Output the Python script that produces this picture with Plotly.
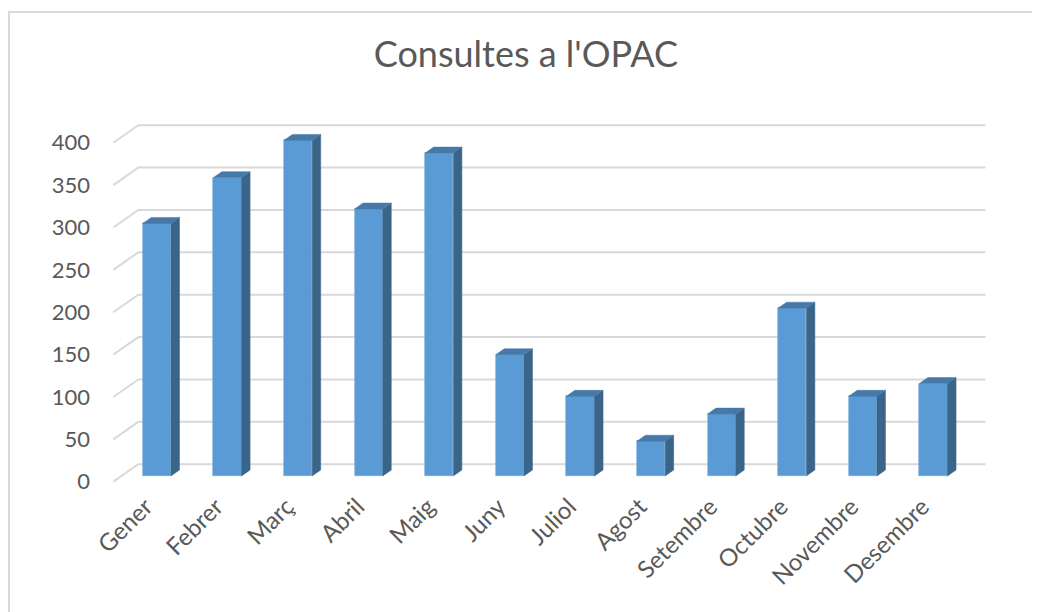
import plotly.graph_objects as go

# ---- data ----
months = ["Gener", "Febrer", "Març", "Abril", "Maig", "Juny", "Juliol",
          "Agost", "Setembre", "Octubre", "Novembre", "Desembre"]
consultes = [298, 352, 396, 315, 381, 143, 94, 41, 73, 198, 94, 109]
y_ticks = [0, 50, 100, 150, 200, 250, 300, 350, 400]
title_text = "Consultes a l'OPAC"

# ---- 3D (oblique) projection styling ----
DEPTH_X = 0.354      # full floor depth, in category units
DEPTH_Y = 20.65      # full floor depth, in value units
BAR_FRONT = 0.33     # depth fraction of bar front face
BAR_BACK = 0.67      # depth fraction of bar back face
BAR_W = 0.40

FRONT = "#5B9BD5"
SIDE = "#3A6589"
TOP = "#4679A8"
GRID = "#D9D9D9"
TEXT = "#595959"
FONT = "Lato"

n = len(months)
xs = list(range(n))
fx = BAR_FRONT * DEPTH_X
fy = BAR_FRONT * DEPTH_Y
ddx = (BAR_BACK - BAR_FRONT) * DEPTH_X
ddy = (BAR_BACK - BAR_FRONT) * DEPTH_Y

fig = go.Figure()

# front faces
fig.add_trace(go.Bar(
    x=[i + fx for i in xs], y=consultes, base=[fy] * n, width=BAR_W,
    marker=dict(color=FRONT, line=dict(color="#6FA8DC", width=0.6)),
    hoverinfo="skip", showlegend=False))

# side and top faces
side_x, side_y, top_x, top_y = [], [], [], []
for i, v in zip(xs, consultes):
    xl = i + fx - BAR_W / 2
    xr = i + fx + BAR_W / 2
    yb = fy
    yt = fy + v
    side_x += [xr, xr + ddx, xr + ddx, xr, xr, None]
    side_y += [yb, yb + ddy, yt + ddy, yt, yb, None]
    top_x += [xl, xl + ddx, xr + ddx, xr, xl, None]
    top_y += [yt, yt + ddy, yt + ddy, yt, yt, None]

fig.add_trace(go.Scatter(x=side_x, y=side_y, mode="lines", fill="toself",
                         fillcolor=SIDE, line=dict(color=SIDE, width=0.5),
                         hoverinfo="skip", showlegend=False))
fig.add_trace(go.Scatter(x=top_x, y=top_y, mode="lines", fill="toself",
                         fillcolor=TOP, line=dict(color=TOP, width=0.5),
                         hoverinfo="skip", showlegend=False))

# back-wall gridlines with slanted side-wall segment
shapes = []
x_left = -0.5
x_right = n - 0.5
for t in y_ticks:
    path = (f"M {x_left},{t} L {x_left + DEPTH_X},{t + DEPTH_Y} "
            f"L {x_right + DEPTH_X},{t + DEPTH_Y}")
    shapes.append(dict(type="path", path=path, xref="x", yref="y",
                       line=dict(color=GRID, width=2), layer="below"))

# chart border
shapes.append(dict(type="rect", xref="paper", yref="paper",
                   x0=-0.0906, x1=1.06, y0=-0.45, y1=1.2256,
                   line=dict(color=GRID, width=2), fillcolor="rgba(0,0,0,0)",
                   layer="below"))

fig.update_layout(
    width=1040, height=612,
    margin=dict(l=85, r=28, t=92, b=130),
    paper_bgcolor="white", plot_bgcolor="white",
    title=dict(text=title_text, x=0.498, xanchor="center",
               y=0.925, yanchor="middle", yref="container",
               font=dict(family=FONT, size=36, color=TEXT)),
    xaxis=dict(range=[-0.788, 12.343], tickvals=xs, ticktext=months,
               tickangle=-45, showgrid=False, zeroline=False,
               showline=False, ticks="", ticklabelstandoff=-3,
               ticklabelshift=-3,
               tickfont=dict(family=FONT, size=24, color=TEXT)),
    yaxis=dict(range=[-9.8, 450.4], tickvals=y_ticks,
               ticktext=[str(t) for t in y_ticks],
               showgrid=False, zeroline=False, showline=False, ticks="",
               ticklabelstandoff=2,
               tickfont=dict(family=FONT, size=22, color=TEXT)),
    shapes=shapes,
    bargap=0,
)

fig.write_html("out.html")
